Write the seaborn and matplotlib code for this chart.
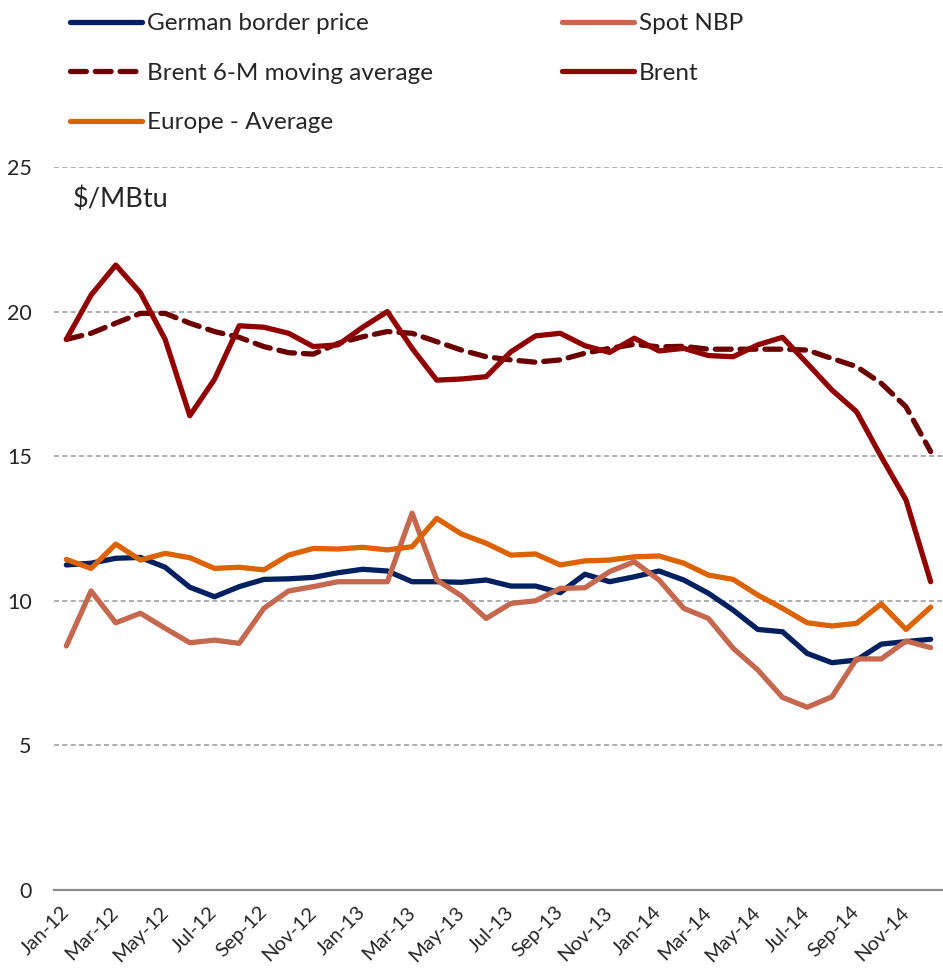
import matplotlib
matplotlib.use("Agg")
import matplotlib.pyplot as plt
from matplotlib.lines import Line2D
from matplotlib.ticker import FixedLocator
import seaborn as sns
import pandas as pd

months = ["Jan-12", "Feb-12", "Mar-12", "Apr-12", "May-12", "Jun-12", "Jul-12", "Aug-12", "Sep-12",
          "Oct-12", "Nov-12", "Dec-12", "Jan-13", "Feb-13", "Mar-13", "Apr-13", "May-13", "Jun-13",
          "Jul-13", "Aug-13", "Sep-13", "Oct-13", "Nov-13", "Dec-13", "Jan-14", "Feb-14", "Mar-14",
          "Apr-14", "May-14", "Jun-14", "Jul-14", "Aug-14", "Sep-14", "Oct-14", "Nov-14", "Dec-14"]

german_border = [11.24, 11.30, 11.47, 11.50, 11.16, 10.47, 10.14, 10.49, 10.74, 10.76, 10.81, 10.97,
                 11.09, 11.03, 10.66, 10.66, 10.64, 10.72, 10.51, 10.51, 10.28, 10.92, 10.66, 10.83,
                 11.03, 10.72, 10.26, 9.68, 9.01, 8.93, 8.18, 7.86, 7.95, 8.50, 8.59, 8.67]
spot_nbp = [8.44, 10.34, 9.24, 9.57, 9.05, 8.55, 8.64, 8.53, 9.74, 10.34, 10.49, 10.66,
            10.66, 10.66, 13.03, 10.72, 10.17, 9.39, 9.91, 10.00, 10.43, 10.45, 11.01, 11.35,
            10.72, 9.74, 9.39, 8.36, 7.61, 6.66, 6.32, 6.68, 7.99, 7.99, 8.61, 8.38]
brent_ma = [19.04, 19.25, 19.60, 19.94, 19.94, 19.60, 19.31, 19.11, 18.79, 18.58, 18.53, 18.90,
            19.13, 19.31, 19.25, 18.96, 18.67, 18.44, 18.33, 18.25, 18.33, 18.56, 18.73, 18.87,
            18.78, 18.80, 18.70, 18.70, 18.70, 18.70, 18.67, 18.38, 18.10, 17.52, 16.71, 15.16]
brent = [19.04, 20.57, 21.61, 20.65, 19.04, 16.40, 17.66, 19.51, 19.46, 19.25, 18.79, 18.85,
         19.46, 20.00, 18.73, 17.63, 17.67, 17.75, 18.61, 19.16, 19.25, 18.82, 18.59, 19.08,
         18.64, 18.73, 18.48, 18.44, 18.85, 19.11, 18.21, 17.29, 16.54, 14.98, 13.49, 10.66]
europe_avg = [11.43, 11.12, 11.96, 11.41, 11.64, 11.49, 11.12, 11.16, 11.07, 11.58, 11.81, 11.79,
              11.85, 11.76, 11.87, 12.85, 12.31, 11.99, 11.58, 11.62, 11.24, 11.38, 11.41, 11.52,
              11.55, 11.30, 10.89, 10.74, 10.20, 9.74, 9.24, 9.13, 9.22, 9.89, 9.01, 9.78]

series = [
    ("German border price", german_border, "#00205F", "-"),
    ("Spot NBP", spot_nbp, "#C4694F", "-"),
    ("Brent 6-M moving average", brent_ma, "#6A0000", (0, (3, 1.7))),
    ("Brent", brent, "#900000", "-"),
    ("Europe - Average", europe_avg, "#DB6300", "-"),
]

sns.set_style("white")
plt.rcParams["font.family"] = ["Lato", "DejaVu Sans"]

fig = plt.figure(figsize=(9.43, 9.68), dpi=100)
ax = fig.add_axes([54 / 943, 78 / 968, 889 / 943, 723 / 968])

x = list(range(len(months)))
handles = {}
for name, vals, color, ls in series:
    df = pd.DataFrame({"x": x, "y": vals})
    sns.lineplot(data=df, x="x", y="y", ax=ax, color=color, linewidth=3.8,
                 linestyle=ls, dash_capstyle="round", solid_capstyle="round")
    handles[name] = Line2D([], [], color=color, linewidth=3.8, linestyle=ls,
                           dash_capstyle="round", solid_capstyle="round")

ax.set_xlim(-0.5, len(months) - 0.5)
ax.set_ylim(0, 25)
ax.set_xlabel("")
ax.set_ylabel("")

ax.set_yticks([0, 5, 10, 15, 20, 25])
ax.set_yticklabels(["0", "5", "10", "15", "20", "25"], fontsize=15.5)
for yv in [5, 10, 15, 20, 25]:
    ax.axhline(yv, color="#A0A0A0", linewidth=1.2, linestyle=(0, (3, 2)), zorder=0)

ax.set_xticks(x[::2])
ax.set_xticklabels(months[::2], rotation=45, ha="right", va="center",
                   rotation_mode="anchor", fontsize=14.5)
ax.xaxis.set_minor_locator(FixedLocator([i - 0.5 for i in range(0, len(months), 2)]))
ax.tick_params(axis="x", which="major", length=0, pad=14)
ax.tick_params(axis="x", which="minor", length=7, width=1.2, color="#8C8C8C", direction="out")
ax.tick_params(axis="y", length=0, pad=16)

for s in ["top", "right", "left"]:
    ax.spines[s].set_visible(False)
ax.spines["bottom"].set_color("#8C8C8C")
ax.spines["bottom"].set_linewidth(1.6)

ax.text(19 / 889, 0.955, "$/MBtu", transform=ax.transAxes, fontsize=19.5, va="center", ha="left")

col1 = ["German border price", "Brent 6-M moving average", "Europe - Average"]
col2 = ["Spot NBP", "Brent"]
leg_kw = dict(frameon=False, fontsize=17.5, handlelength=2.95, handletextpad=0.2,
              labelspacing=1.18, borderpad=0, borderaxespad=0, loc="upper left")
leg1 = fig.legend([handles[n] for n in col1], col1, bbox_to_anchor=(70 / 943, 1 - 13 / 968), **leg_kw)
leg2 = fig.legend([handles[n] for n in col2], col2, bbox_to_anchor=(562 / 943, 1 - 13 / 968), **leg_kw)

fig.savefig("out.png", dpi=100)
